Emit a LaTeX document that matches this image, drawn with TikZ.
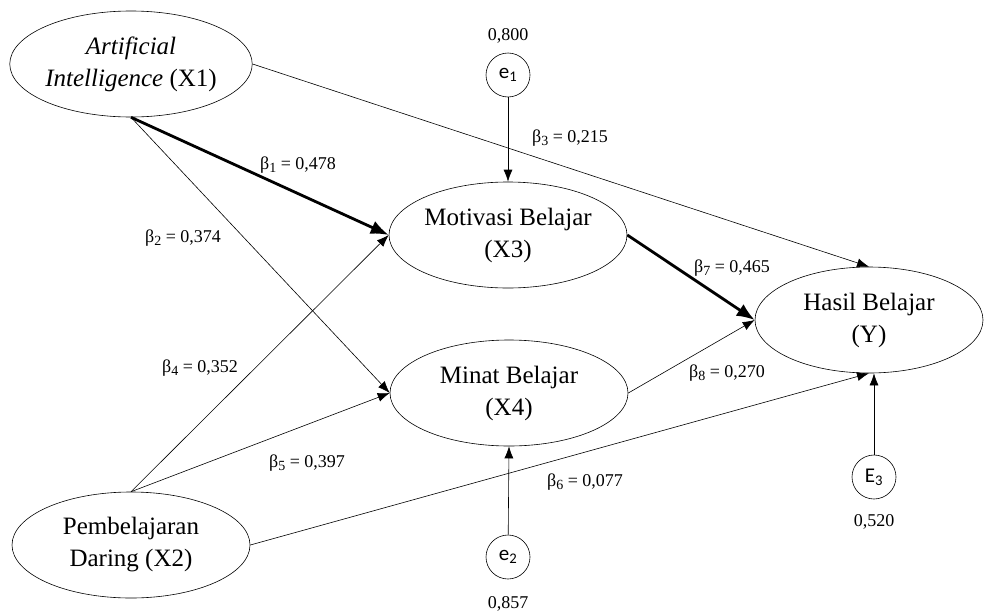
\documentclass[tikz,border=0pt]{standalone}
\usepackage{fontspec}
\setmainfont{Liberation Serif}
\newfontfamily\errfont{Carlito}
\usetikzlibrary{shapes.geometric, arrows.meta, positioning}
\newcommand{\bcoef}[2]{β\raisebox{-0.35ex}{\fontsize{14}{14}\selectfont #1} = #2}

\begin{document}
\begin{tikzpicture}[x=1pt, y=-1pt,
    every node/.style={font=\fontsize{25}{32}\selectfont},
    var/.style={ellipse, draw, line width=0.6pt, minimum width=238pt,
                minimum height=106pt, inner sep=0pt, align=center},
    err/.style={circle, draw, line width=0.6pt, minimum size=44pt, inner sep=0pt,
                font=\errfont\fontsize{21}{22}\selectfont},
    coef/.style={font=\fontsize{18}{20}\selectfont},
    arr/.style={-{Latex[length=12pt, width=9pt]}, line width=0.6pt},
    thk/.style={-{Latex[length=18pt, width=14pt]}, line width=2.8pt}
]
    \useasboundingbox (0,0) rectangle (984,613);
    % latent variables
    \node[var] (ai) at (131,64) {\textit{Artificial}\\\textit{Intelligence} (X1)};
    \node[var] (pd) at (131,545) {Pembelajaran\\Daring (X2)};
    \node[var] (mot) at (508,235) {Motivasi Belajar\\(X3)};
    \node[var] (min) at (509,393) {Minat Belajar\\(X4)};
    \node[var, minimum width=228pt] (hb) at (869,320) {Hasil Belajar\\(Y)};
    % error terms
    \node[err] (e1) at (508,75) {e\textsubscript{1}};
    \node[err] (e2) at (508,557) {e\textsubscript{2}};
    \node[err] (e3) at (874,477) {E\textsubscript{3}};
    \node[coef, above=6pt of e1] (v1) {0,800};
    \node[coef, below=14pt of e2] (v2) {0,857};
    \node[coef, below=12pt of e3] (v3) {0,520};
    % paths
    \draw[thk] (ai.south) -- (mot.west);
    \draw[arr] (ai.south) -- (min.west);
    \draw[arr] (ai.east) -- (hb.north);
    \draw[arr] (pd.north) -- (mot.west);
    \draw[arr] (pd.north) -- (min.west);
    \draw[arr] (pd.east) -- (hb.south);
    \draw[thk] (mot.east) -- (hb.west);
    \draw[arr] (min.east) -- (hb.west);
    \draw[arr] (e1) -- (mot.north);
    \draw[arr] (e2) -- (min.south);
    \draw[arr] (e3) -- (e3 |- hb.south);
    % coefficients
    \node[coef] (b1) at (298,165) {\bcoef{1}{0,478}};
    \node[coef] (b2) at (183,238) {\bcoef{2}{0,374}};
    \node[coef] (b3) at (570,138) {\bcoef{3}{0,215}};
    \node[coef] (b4) at (200,368) {\bcoef{4}{0,352}};
    \node[coef] (b5) at (307,463) {\bcoef{5}{0,397}};
    \node[coef] (b6) at (585,482) {\bcoef{6}{0,077}};
    \node[coef] (b7) at (732,268) {\bcoef{7}{0,465}};
    \node[coef] (b8) at (727,373) {\bcoef{8}{0,270}};
\end{tikzpicture}
\end{document}
